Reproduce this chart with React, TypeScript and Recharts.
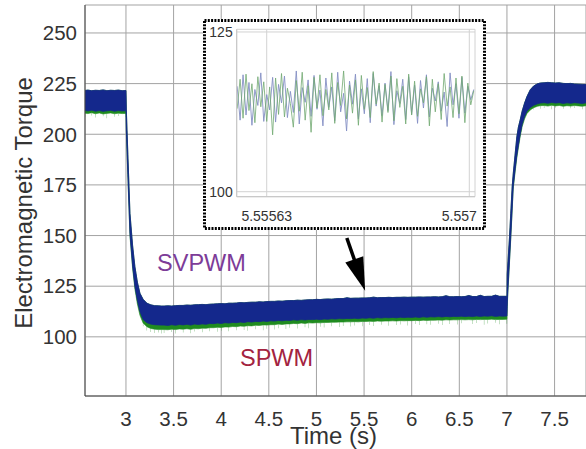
import React from 'react';
import {
  ComposedChart,
  LineChart,
  Line,
  Area,
  Bar,
  XAxis,
  YAxis,
  CartesianGrid,
  ReferenceDot,
  ReferenceLine,
} from 'recharts';

const FONT = '"Liberation Sans", Arial, Helvetica, sans-serif';

// ---------- main chart data (time in s, torque) ----------
const time = [
  2.57, 2.6, 2.64, 2.68, 2.72, 2.76, 2.8, 2.84, 2.88, 2.92, 2.96, 3.0,
  3.004, 3.02, 3.042, 3.07, 3.094, 3.12, 3.147, 3.18, 3.22, 3.26, 3.3, 3.34, 3.37,
  3.40, 3.44, 3.48, 3.52, 3.56, 3.60, 3.64, 3.68, 3.72, 3.76,
  3.80, 3.84, 3.88, 3.92, 3.96, 4.00, 4.04, 4.08, 4.12, 4.16,
  4.20, 4.24, 4.28, 4.32, 4.36, 4.40, 4.44, 4.48, 4.52, 4.56,
  4.60, 4.64, 4.68, 4.72, 4.76, 4.80, 4.84, 4.88, 4.92, 4.96,
  5.00, 5.04, 5.08, 5.12, 5.16, 5.20, 5.24, 5.28, 5.32, 5.36,
  5.40, 5.44, 5.48, 5.52, 5.56, 5.60, 5.64, 5.68, 5.72, 5.76,
  5.80, 5.84, 5.88, 5.92, 5.96, 6.00, 6.04, 6.08, 6.12, 6.16,
  6.20, 6.24, 6.28, 6.32, 6.36, 6.40, 6.44, 6.48, 6.52, 6.56,
  6.60, 6.64, 6.68, 6.72, 6.76, 6.80, 6.84, 6.88, 6.92, 6.96,
  7.00,
  7.003, 7.008, 7.027, 7.04, 7.055, 7.066, 7.087, 7.104, 7.12, 7.139, 7.16, 7.185, 7.21, 7.245, 7.28, 7.32, 7.35,
  7.39, 7.43, 7.47, 7.51, 7.55, 7.59, 7.63, 7.67, 7.71, 7.75, 7.79, 7.83,
];

// upper envelope (both drives share it)
const svpwmTop = [
  221.6, 221.8, 221.5, 221.7, 221.6, 221.9, 221.5, 221.7, 221.6, 221.8, 221.5, 221.6,
  212, 190, 161, 145, 134.6, 127, 121.5, 118.5, 116.6, 115.8, 115.4, 115.3, 115.2,
  115.2, 115.3, 115.2, 115.4, 115.5, 115.5, 115.7, 115.6, 115.8, 115.9,
  116.0, 115.9, 116.1, 116.2, 116.3, 116.4, 116.3, 116.6, 116.6, 116.7,
  116.9, 116.8, 117.0, 117.1, 117.1, 117.3, 117.2, 117.4, 117.5, 117.5,
  117.7, 117.6, 117.8, 117.9, 117.9, 118.1, 118.0, 118.2, 118.3, 118.3,
  118.5, 118.4, 118.6, 118.7, 118.6, 118.8, 118.9, 118.9, 119.3, 119.0,
  119.1, 119.1, 119.2, 119.2, 119.3, 119.6, 119.3, 119.4, 119.4, 119.5,
  119.4, 119.5, 119.5, 119.6, 119.5, 119.6, 119.6, 119.7, 119.6, 119.7,
  119.7, 119.8, 119.7, 119.8, 120.3, 119.8, 119.8, 119.9, 119.8, 119.9,
  120.4, 119.9, 119.9, 120.5, 119.9, 120.0, 120.0, 120.6, 120.0, 120.0,
  120.0,
  131, 135, 149.4, 161, 174.2, 180.5, 190.7, 198.9, 203.5, 207.1, 211.5, 215.4, 218.6, 222, 223.8, 224.9, 225.3,
  225.4, 225.6, 225.4, 225.3, 225.4, 225.1, 225.0, 225.1, 224.8, 224.7, 224.6, 224.5,
];

// SVPWM lower envelope
const svpwmBottom = [
  211.8, 211.5, 211.9, 211.4, 211.7, 211.3, 211.6, 211.8, 211.4, 211.7, 211.5, 211.6,
  202, 180, 151, 135, 125, 118, 112.5, 108.6, 107, 106.3, 106, 105.9, 105.8,
  105.8, 105.6, 106.0, 105.7, 106.1, 105.9, 106.2, 105.8, 106.3, 106.1,
  106.4, 106.2, 106.6, 106.5, 106.8, 106.6, 107.0, 106.8, 107.1, 107.0,
  107.3, 107.1, 107.5, 107.3, 107.6, 107.5, 107.8, 107.6, 107.9, 107.8,
  108.1, 107.9, 108.2, 108.1, 108.4, 108.2, 108.5, 108.3, 108.6, 108.5,
  108.7, 108.5, 108.8, 108.7, 108.9, 108.8, 109.0, 108.9, 109.1, 109.0,
  109.2, 109.0, 109.3, 109.2, 109.4, 109.2, 109.5, 109.3, 109.5, 109.4,
  109.6, 109.4, 109.7, 109.5, 109.7, 109.6, 109.8, 109.6, 109.9, 109.7,
  109.9, 109.8, 110.0, 109.8, 110.1, 109.9, 110.1, 110.0, 110.2, 110.0,
  110.2, 110.0, 110.3, 110.1, 110.3, 110.2, 110.4, 110.1, 110.3, 110.2,
  110.3,
  115, 121.5, 138, 149.4, 163.5, 174.2, 183, 189.6, 194.5, 200, 205, 208.8, 211.4, 213.2, 214.3, 215, 215.4,
  215.6, 215.3, 215.7, 215.4, 215.6, 215.2, 215.5, 215.3, 215.6, 215.4, 215.2, 215.5,
];

// SPWM lower envelope (continuous fringe)
const spwmBottom = [
  210.4, 210.2, 210.6, 210.1, 210.5, 210.0, 210.3, 210.5, 210.1, 210.4, 210.2, 210.3,
  200.8, 178.8, 149.8, 133.7, 123.6, 116.2, 110.6, 106.8, 105.0, 104.1, 103.8, 103.6, 103.6,
  103.6, 103.5, 103.8, 103.6, 103.9, 103.8, 104.0, 103.7, 104.1, 104.0,
  104.3, 104.2, 104.5, 104.5, 104.7, 104.6, 104.9, 104.8, 105.1, 105.0,
  105.3, 105.2, 105.5, 105.4, 105.7, 105.6, 105.9, 105.8, 106.0, 106.0,
  106.3, 106.1, 106.4, 106.4, 106.6, 106.5, 106.8, 106.6, 106.9, 106.8,
  107.0, 106.9, 107.1, 107.1, 107.2, 107.2, 107.3, 107.3, 107.4, 107.4,
  107.5, 107.4, 107.6, 107.6, 107.7, 107.6, 107.8, 107.7, 107.8, 107.8,
  107.9, 107.8, 108.0, 107.9, 108.0, 108.0, 108.1, 108.0, 108.2, 108.1,
  108.2, 108.2, 108.3, 108.2, 108.4, 108.3, 108.4, 108.4, 108.5, 108.4,
  108.5, 108.4, 108.6, 108.5, 108.6, 108.6, 108.7, 108.5, 108.6, 108.6,
  108.7,
  114, 120, 136.8, 148.2, 162.3, 173, 181.8, 188.4, 193.3, 198.8, 203.8, 207.6, 210.2, 212.0, 213.1, 213.8, 214.1,
  214.2, 213.9, 214.3, 214.0, 214.2, 213.8, 214.1, 213.9, 214.2, 214.0, 213.8, 214.1,
];

// SPWM downward spikes (lowest sample in each slot, null = no visible spike)
const spwmSpikeLow = [
  208.6, null, 209.2, 208.3, null, 208.9, 207.9, null, 208.7, 209.0, null, 208.5,
  null, null, null, null, null, null, null, 105.2, 103.1, 102.4, 101.9, 102.2, 101.7,
  101.9, null, 102.4, 101.6, null, 102.1, null, 101.8, 102.6, null,
  102.3, null, 102.8, null, 102.5, 103.0, null, 102.7, null, 103.2,
  null, 103.4, 103.0, null, 103.7, null, 103.3, 104.0, null, 103.6,
  104.2, null, 103.9, 104.5, null, 104.1, null, 104.7, 104.3, null,
  null, 105.0, 104.6, null, 105.2, null, 104.8, 105.4, null, 105.1,
  105.6, null, 105.2, null, 105.8, 105.4, null, 106.0, null, 105.5,
  null, 105.9, 106.1, null, 105.6, null, 106.3, 105.8, null, 106.2,
  106.0, null, 106.5, 105.9, null, 106.4, null, 106.1, 106.7, null,
  null, 106.3, 106.8, null, 106.0, 106.6, null, 106.9, 106.2, null,
  106.5,
  null, null, null, null, null, null, null, null, null, null, null, null, null, null, 212.2, null, 212.6,
  212.9, null, 212.4, 213.1, null, 212.6, null, 212.8, 213.0, null, 212.3, null,
];

const xTicks = [3, 3.5, 4, 4.5, 5, 5.5, 6, 6.5, 7, 7.5];
const yTicks = [100, 125, 150, 175, 200, 225, 250];

// ---------- inset (zoom) data ----------
const insetTime = [
  5.55543, 5.55545, 5.55547, 5.55549, 5.55551, 5.55553, 5.55555, 5.55557, 5.55559, 5.55561,
  5.55563, 5.55565, 5.55567, 5.55569, 5.55571, 5.55573, 5.55575, 5.55577, 5.55579, 5.55581,
  5.55583, 5.55585, 5.55587, 5.55589, 5.55591, 5.55593, 5.55595, 5.55597, 5.55599, 5.55601,
  5.55603, 5.55605, 5.55607, 5.55609, 5.55611, 5.55613, 5.55615, 5.55617, 5.55619, 5.55621,
  5.55623, 5.55625, 5.55627, 5.55629, 5.55631, 5.55633, 5.55635, 5.55637, 5.55639, 5.55641,
  5.55643, 5.55645, 5.55647, 5.55649, 5.55651, 5.55653, 5.55655, 5.55657, 5.55659, 5.55661,
  5.55663, 5.55665, 5.55667, 5.55669, 5.55671, 5.55673, 5.55675, 5.55677, 5.55679, 5.55681,
  5.55683, 5.55685, 5.55687, 5.55689, 5.55691, 5.55693, 5.55695, 5.55697, 5.55699, 5.55701,
  5.55703,
];
const insetSvpwm = [
  116.5, 111.2, 118.3, 112.0, 117.1, 110.4, 116.0, 113.5, 118.6, 111.0,
  115.2, 112.8, 117.9, 110.9, 116.8, 113.9, 118.1, 111.6, 115.7, 112.4,
  118.9, 110.6, 116.3, 114.0, 117.5, 111.8, 118.2, 112.9, 115.9, 110.3,
  117.8, 113.2, 116.4, 111.1, 118.7, 112.5, 115.4, 109.5, 117.3, 113.7,
  118.4, 111.4, 116.1, 112.2, 117.7, 110.8, 118.5, 113.4, 116.6, 111.9,
  117.0, 112.7, 118.8, 110.5, 115.8, 113.8, 117.6, 111.3, 118.0, 112.1,
  116.7, 110.7, 117.4, 113.1, 118.3, 111.7, 116.2, 114.2, 117.2, 112.6,
  115.6, 110.2, 118.6, 113.6, 116.9, 111.5, 117.9, 112.3, 116.5, 114.4,
  116.0,
];
const insetSpwm = [
  113.0, 117.6, 111.5, 118.4, 112.7, 116.9, 110.8, 118.0, 113.3, 117.2,
  111.0, 116.4, 108.9, 117.8, 112.1, 118.5, 111.7, 116.2, 113.8, 110.1,
  117.4, 112.6, 118.7, 111.2, 116.6, 109.3, 117.9, 113.1, 118.3, 111.9,
  116.0, 112.8, 118.6, 110.7, 117.1, 113.5, 118.9, 111.4, 116.7, 112.3,
  117.5, 110.4, 118.2, 112.9, 116.3, 111.6, 118.8, 113.7, 117.0, 110.9,
  116.8, 112.4, 118.1, 111.1, 117.7, 113.2, 116.5, 110.6, 118.4, 112.0,
  117.3, 111.8, 116.1, 113.9, 118.0, 110.3, 117.6, 112.5, 116.9, 111.3,
  118.5, 113.4, 116.4, 111.6, 117.8, 112.2, 118.1, 110.8, 117.0, 113.6,
  115.8,
];
const insetXTicks = [5.55563, 5.557];
const insetYTicks = [100, 125];

const data = time.map((t, i) => ({
  t,
  spwm: [spwmBottom[i], svpwmTop[i]],
  svpwm: [svpwmBottom[i], svpwmTop[i]],
  spike: spwmSpikeLow[i] == null ? null : [spwmSpikeLow[i], spwmBottom[i]],
}));

const insetData = insetTime.map((t, i) => ({ t, svpwm: insetSvpwm[i], spwm: insetSpwm[i] }));

const BLUE = '#14288c';
const GREEN = '#1f8b1f';

const renderYLabel = (props: any) => {
  const vb = props && props.viewBox ? props.viewBox : { x: 0, y: 5, width: 85, height: 391 };
  const cx = vb.x + 32;
  const cy = vb.y + vb.height / 2 + 2.5;
  return (
    <text
      x={cx}
      y={cy}
      transform={`rotate(-90 ${cx} ${cy})`}
      textAnchor="middle"
      fontSize={24}
      fill="#333"
      fontFamily={FONT}
    >
      Electromagnetic Torque
    </text>
  );
};

const renderXLabel = (props: any) => {
  const vb = props && props.viewBox ? props.viewBox : { x: 85, y: 396, width: 501, height: 53 };
  return (
    <text
      x={vb.x + vb.width / 2 - 2}
      y={vb.y + 48}
      textAnchor="middle"
      fontSize={24}
      fill="#333"
      fontFamily={FONT}
    >
      Time (s)
    </text>
  );
};

const ArrowShape = (props: any) => {
  const { x1, y1, x2, y2 } = props;
  if ([x1, y1, x2, y2].some((v) => typeof v !== 'number' || isNaN(v))) return null;
  const dx = x2 - x1;
  const dy = y2 - y1;
  const len = Math.hypot(dx, dy) || 1;
  const ux = dx / len;
  const uy = dy / len;
  const headLen = 33;
  const headW = 9.5;
  const bx = x2 - ux * headLen;
  const by = y2 - uy * headLen;
  const px = -uy;
  const py = ux;
  return (
    <g>
      <line x1={x1} y1={y1} x2={bx + ux * 2} y2={by + uy * 2} stroke="#000" strokeWidth={3.5} />
      <polygon
        points={`${x2},${y2} ${bx + px * headW},${by + py * headW} ${bx - px * headW},${by - py * headW}`}
        fill="#000"
      />
    </g>
  );
};

const InsetXTick = (props: any) => {
  const { x, y, payload, index } = props;
  const last = index === insetXTicks.length - 1;
  return (
    <text
      x={last ? x + 7.5 : x}
      y={y}
      dy="0.71em"
      textAnchor={last ? 'end' : 'middle'}
      fontSize={14}
      fill="#333"
      fontFamily={FONT}
    >
      {String(payload.value)}
    </text>
  );
};

export default function App() {
  return (
    <div style={{ position: 'absolute', left: 0, top: 0, width: 586, height: 449, background: '#fff', overflow: 'hidden' }}>
      <ComposedChart
        width={586}
        height={449}
        data={data}
        margin={{ top: 5, right: 0, bottom: 0, left: 0 }}
        style={{ fontFamily: FONT }}
      >
        <CartesianGrid stroke="#a3a3a3" strokeWidth={1} />
        <XAxis
          dataKey="t"
          type="number"
          domain={[2.57, 7.83]}
          ticks={xTicks}
          interval={0}
          allowDataOverflow
          height={53}
          tickSize={0}
          tickMargin={15.5}
          tickLine={false}
          axisLine={{ stroke: '#444' }}
          tick={{ fill: '#333', fontSize: 20.5, fontFamily: FONT }}
          label={renderXLabel}
        />
        <XAxis
          xAxisId="top"
          orientation="top"
          type="number"
          domain={[2.57, 7.83]}
          height={0}
          tick={false}
          tickLine={false}
          axisLine={{ stroke: '#444' }}
        />
        <YAxis
          type="number"
          domain={[70.8, 263.8]}
          ticks={yTicks}
          interval={0}
          allowDataOverflow
          width={85}
          tickSize={0}
          tickMargin={8}
          tickLine={false}
          axisLine={{ stroke: '#444' }}
          tick={{ fill: '#333', fontSize: 20.5, fontFamily: FONT }}
          label={renderYLabel}
        />
        <Area
          type="linear"
          dataKey="spwm"
          stroke={GREEN}
          strokeWidth={0.6}
          fill={GREEN}
          fillOpacity={1}
          isAnimationActive={false}
          dot={false}
          activeDot={false}
        />
        <Bar
          dataKey="spike"
          fill={GREEN}
          barSize={1.3}
          isAnimationActive={false}
        />
        <Area
          type="linear"
          dataKey="svpwm"
          stroke={BLUE}
          strokeWidth={0.8}
          fill={BLUE}
          fillOpacity={1}
          isAnimationActive={false}
          dot={false}
          activeDot={false}
        />
        <ReferenceLine
          segment={[
            { x: 5.319, y: 148.8 },
            { x: 5.511, y: 122.8 },
          ]}
          shape={ArrowShape}
          ifOverflow="visible"
        />
        <ReferenceDot
          x={3.793}
          y={136.7}
          r={0}
          fill="none"
          stroke="none"
          label={{ value: 'SVPWM', position: 'center', fill: '#7d3c98', fontSize: 23.5, fontFamily: FONT }}
        />
        <ReferenceDot
          x={4.581}
          y={89.5}
          r={0}
          fill="none"
          stroke="none"
          label={{ value: 'SPWM', position: 'center', fill: '#a3233f', fontSize: 23.5, fontFamily: FONT }}
        />
      </ComposedChart>

      <div style={{ position: 'absolute', left: 203, top: 19, width: 283, height: 211, background: '#fff' }}>
        <LineChart
          width={283}
          height={211}
          data={insetData}
          margin={{ top: 10.3, right: 11, bottom: 0, left: 0 }}
          style={{ fontFamily: FONT }}
        >
          <CartesianGrid stroke="#d2d2d2" strokeWidth={1} />
          <XAxis
            dataKey="t"
            type="number"
            domain={[5.555427, 5.5570385]}
            ticks={insetXTicks}
            interval={0}
            allowDataOverflow
            height={33.3}
            tickSize={0}
            tickMargin={14}
            tickLine={false}
            axisLine={{ stroke: '#c6c6c6' }}
            tick={<InsetXTick />}
          />
          <XAxis
            xAxisId="top"
            orientation="top"
            type="number"
            domain={[5.555427, 5.5570385]}
            height={0}
            tick={false}
            tickLine={false}
            axisLine={{ stroke: '#c6c6c6' }}
          />
          <YAxis
            type="number"
            domain={[99.22, 125.42]}
            ticks={insetYTicks}
            interval={0}
            allowDataOverflow
            width={33.7}
            tickSize={0}
            tickMargin={4}
            tickLine={false}
            axisLine={{ stroke: '#c6c6c6' }}
            tick={{ fill: '#333', fontSize: 14, fontFamily: FONT }}
          />
          <YAxis
            yAxisId="r"
            orientation="right"
            type="number"
            domain={[99.22, 125.42]}
            width={0}
            tick={false}
            tickLine={false}
            axisLine={{ stroke: '#c6c6c6' }}
          />
          <Line
            type="linear"
            dataKey="svpwm"
            stroke="#8590c4"
            strokeWidth={0.9}
            dot={false}
            activeDot={false}
            isAnimationActive={false}
          />
          <Line
            type="linear"
            dataKey="spwm"
            stroke="#72aa72"
            strokeWidth={0.9}
            strokeOpacity={0.9}
            dot={false}
            activeDot={false}
            isAnimationActive={false}
          />
        </LineChart>
        <svg
          width={283}
          height={211}
          style={{ position: 'absolute', left: 0, top: 0, pointerEvents: 'none' }}
        >
          <rect
            x={1.5}
            y={1.5}
            width={280}
            height={208}
            fill="none"
            stroke="#000"
            strokeWidth={3}
            strokeDasharray="2 1.3"
          />
        </svg>
      </div>
    </div>
  );
}
